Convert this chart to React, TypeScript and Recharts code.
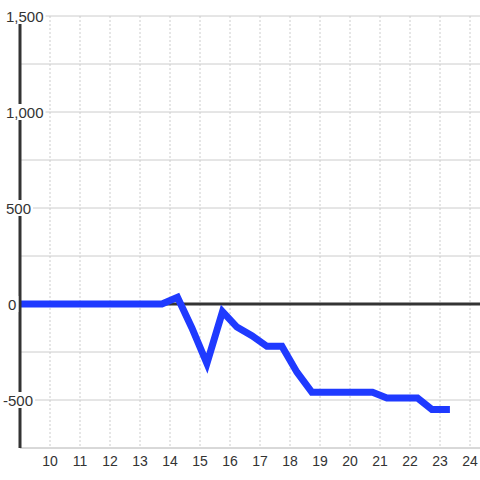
import {
  LineChart,
  Line,
  XAxis,
  YAxis,
  CartesianGrid,
  ReferenceLine,
} from "recharts";

const hours = [
  9.0, 9.23, 9.73, 10.23, 10.73, 11.23, 11.73, 12.23, 12.73, 13.23, 13.73,
  14.25, 14.73, 15.23, 15.75, 16.23, 16.73, 17.23, 17.73, 18.23, 18.73,
  19.23, 19.73, 20.23, 20.75, 21.23, 21.73, 22.25, 22.73, 23.23, 23.33,
];
const values = [
  0, 0, 0, 0, 0, 0, 0, 0, 0, 0, 0,
  35, -125, -310, -40, -120, -165, -220, -220, -355, -460,
  -460, -460, -460, -460, -490, -490, -490, -550, -550, -550,
];
const xTicks = [10, 11, 12, 13, 14, 15, 16, 17, 18, 19, 20, 21, 22, 23, 24];
const yTicks = [-750, -500, -250, 0, 250, 500, 750, 1000, 1250, 1500];
const yLabelled = [-500, 0, 500, 1000, 1500];
const xDomain = [9, 24.333];

const data = hours.map((h, i) => ({ hour: h, value: values[i] }));

const FONT = "'Liberation Sans', Arial, sans-serif";

function YTick({ y, payload }: { x?: number; y?: number; payload?: { value: number } }) {
  const v = payload?.value ?? 0;
  if (!yLabelled.includes(v)) return null;
  const label = v.toLocaleString("en-US");
  const w = label.length * 8.35 - (label.includes(",") ? 4.2 : 0) - (v < 0 ? 3.3 : 0) + 4;
  const left = v < 0 ? 1 : v === 0 ? 6 : 4;
  return (
    <g>
      <rect x={left} y={(y ?? 0) - 8} width={w} height={16} fill="#fff" />
      <text
        x={left + 2}
        y={(y ?? 0) + 6}
        textAnchor="start"
        fontSize={15}
        fontFamily={FONT}
        fill="#333"
      >
        {label}
      </text>
    </g>
  );
}

export default function App() {
  return (
    <div style={{ position: "absolute", left: 0, top: 0, background: "#fff" }}>
      <LineChart
        width={480}
        height={480}
        data={data}
        margin={{ top: 16, right: 0, bottom: 0, left: 0 }}
      >
        <CartesianGrid stroke="#ccc" vertical={false} horizontalValues={yTicks} />
        <CartesianGrid
          stroke="#ccc"
          horizontal={false}
          verticalValues={xTicks}
          strokeDasharray="2 2"
        />
        <XAxis
          dataKey="hour"
          type="number"
          domain={xDomain}
          ticks={xTicks}
          allowDataOverflow
          height={32}
          axisLine={{ stroke: "#ccc", strokeWidth: 1 }}
          tickLine={false}
          tick={{ fontSize: 14, fill: "#333", fontFamily: FONT }}
          tickMargin={2}
        />
        <YAxis
          type="number"
          domain={[-750, 1500]}
          ticks={yTicks}
          width={20}
          axisLine={{ stroke: "#333", strokeWidth: 3 }}
          tickLine={false}
          tick={<YTick />}
          interval={0}
        />
        <ReferenceLine y={0} stroke="#333" strokeWidth={3} />
        <Line
          type="linear"
          dataKey="value"
          stroke="#1f3aff"
          strokeWidth={7}
          dot={false}
          activeDot={false}
          isAnimationActive={false}
        />
      </LineChart>
    </div>
  );
}
